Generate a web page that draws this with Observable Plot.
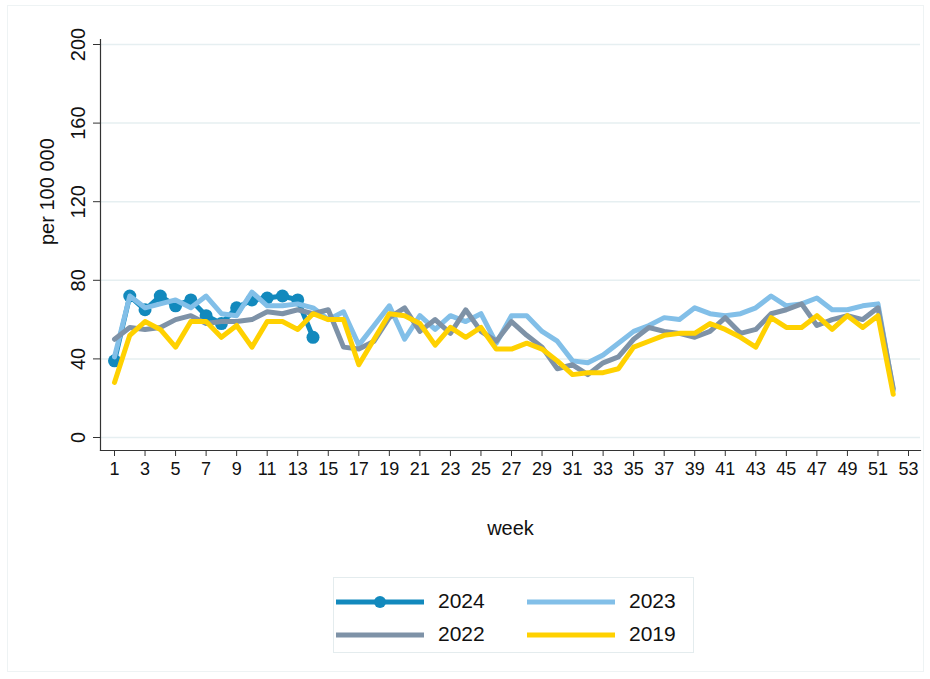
<!DOCTYPE html>
<html><head><meta charset="utf-8">
<script src="https://cdn.jsdelivr.net/npm/d3@7"></script>
<script src="https://cdn.jsdelivr.net/npm/@observablehq/plot@0.6"></script>
<style>
body{margin:0;background:#fff;font-family:"Liberation Sans",Arial,sans-serif;}
#wrap{position:relative;width:930px;height:679px;overflow:hidden;}
#outer{position:absolute;left:7px;top:5px;width:917px;height:667px;border:1px solid #eef3f4;box-sizing:border-box;}
#chart{position:absolute;left:0;top:0;}
#legend{position:absolute;left:333px;top:577px;width:361px;height:76px;border:1px solid #e4ecee;box-sizing:border-box;background:#fff;}
.item{position:absolute;height:20px;}
.item svg{position:absolute;left:0;top:0;}
.item span{position:absolute;top:-3px;font-size:21px;color:#111;line-height:24px;}
</style></head>
<body>
<div id="wrap"><div id="outer"></div><div id="chart"></div><div id="legend"></div></div>
<script>
const weeks = [1,2,3,4,5,6,7,8,9,10,11,12,13,14,15,16,17,18,19,20,21,22,23,24,25,26,27,28,29,30,31,32,33,34,35,36,37,38,39,40,41,42,43,44,45,46,47,48,49,50,51,52];
const v2024 = [39,72,65,72,67,70,62,58,66,70,71,72,70,51];
const v2023 = [41,72,66,68,70,66,72,63,62,74,67,67,68,66,60,64,47,57,67,50,62,55,62,59,63,48,62,62,54,49,39,38,42,48,54,57,61,60,66,63,62,63,66,72,67,68,71,65,65,67,68,24];
const v2022 = [50,56,55,56,60,62,58,59,59,60,64,63,65,63,65,46,45,49,61,66,54,60,53,65,54,49,59,52,46,35,37,32,38,41,50,56,54,53,51,54,61,53,55,63,65,68,57,60,62,60,66,25];
const v2019 = [28,52,59,55,46,59,59,51,57,46,59,59,55,63,60,60,37,50,63,62,58,47,56,51,56,45,45,48,45,39,32,33,33,35,46,49,52,53,53,58,55,51,46,61,56,56,62,55,62,56,62,22];
const yTicks = [0,40,80,120,160,200];
const xTicks = [1,3,5,7,9,11,13,15,17,19,21,23,25,27,29,31,33,35,37,39,41,43,45,47,49,51,53];
const seriesNames = ["2024","2023","2022","2019"];
const colors = {"2024":"#1289bd","2023":"#82bfe8","2022":"#7e92a7","2019":"#ffd100"};

const toRows = (vals, name) => vals.map((v, i) => ({week: weeks[i], value: v, year: name}));
const d2024 = toRows(v2024, "2024");
const d2023 = toRows(v2023, "2023");
const d2022 = toRows(v2022, "2022");
const d2019 = toRows(v2019, "2019");

const H = 548;
const chart = Plot.plot({
  width: 930, height: H,
  marginLeft: 100, marginRight: 10, marginTop: 39, marginBottom: H - 450,
  style: {fontFamily: "Liberation Sans, Arial, sans-serif", fontSize: "18px", color: "#111", background: "transparent", overflow: "visible"},
  x: {domain: [1, 53], range: [114, 908]},
  y: {domain: [0, 200], range: [437, 44]},
  marks: [
    Plot.gridY(yTicks, {stroke: "#e6eff1", strokeOpacity: 1, strokeWidth: 1.5}),
    Plot.frame({anchor: "left", stroke: "#333", strokeWidth: 1.2}),
    Plot.frame({anchor: "bottom", stroke: "#333", strokeWidth: 1.2}),
    Plot.axisY(yTicks, {anchor: "left", tickSize: 7, tickPadding: 9, tickRotate: -90, fontSize: 20, label: null, stroke: "#333"}),
    Plot.axisX(xTicks, {anchor: "bottom", tickSize: 6, tickPadding: 6, fontSize: 18, label: null, stroke: "#333"}),
    Plot.line(d2024, {x: "week", y: "value", stroke: colors["2024"], strokeWidth: 5}),
    Plot.dot(d2024, {x: "week", y: "value", fill: colors["2024"], r: 6.5}),
    Plot.line(d2023, {x: "week", y: "value", stroke: colors["2023"], strokeWidth: 5}),
    Plot.line(d2022, {x: "week", y: "value", stroke: colors["2022"], strokeWidth: 5}),
    Plot.line(d2019, {x: "week", y: "value", stroke: colors["2019"], strokeWidth: 5}),
    Plot.text(["week"], {frameAnchor: "bottom", dy: 84, fontSize: 20, fill: "#111"}),
    Plot.text(["per 100 000"], {frameAnchor: "left", dx: -53, rotate: -90, fontSize: 20, fill: "#111"})
  ]
});
document.getElementById("chart").appendChild(chart);

// legend
const legend = document.getElementById("legend");
const pos = {"2024": [2, 14], "2023": [193, 14], "2022": [2, 47], "2019": [193, 47]};
for (const name of seriesNames) {
  const [lx, ly] = pos[name];
  const div = document.createElement("div");
  div.className = "item";
  div.style.left = lx + "px"; div.style.top = ly + "px";
  const marker = name === "2024" ? `<circle cx="44" cy="10" r="6" fill="${colors[name]}"/>` : "";
  div.innerHTML = `<svg width="90" height="20"><line x1="0" x2="88" y1="10" y2="10" stroke="${colors[name]}" stroke-width="5"/>${marker}</svg><span style="left:102px">${name}</span>`;
  legend.appendChild(div);
}
</script>
</body></html>
